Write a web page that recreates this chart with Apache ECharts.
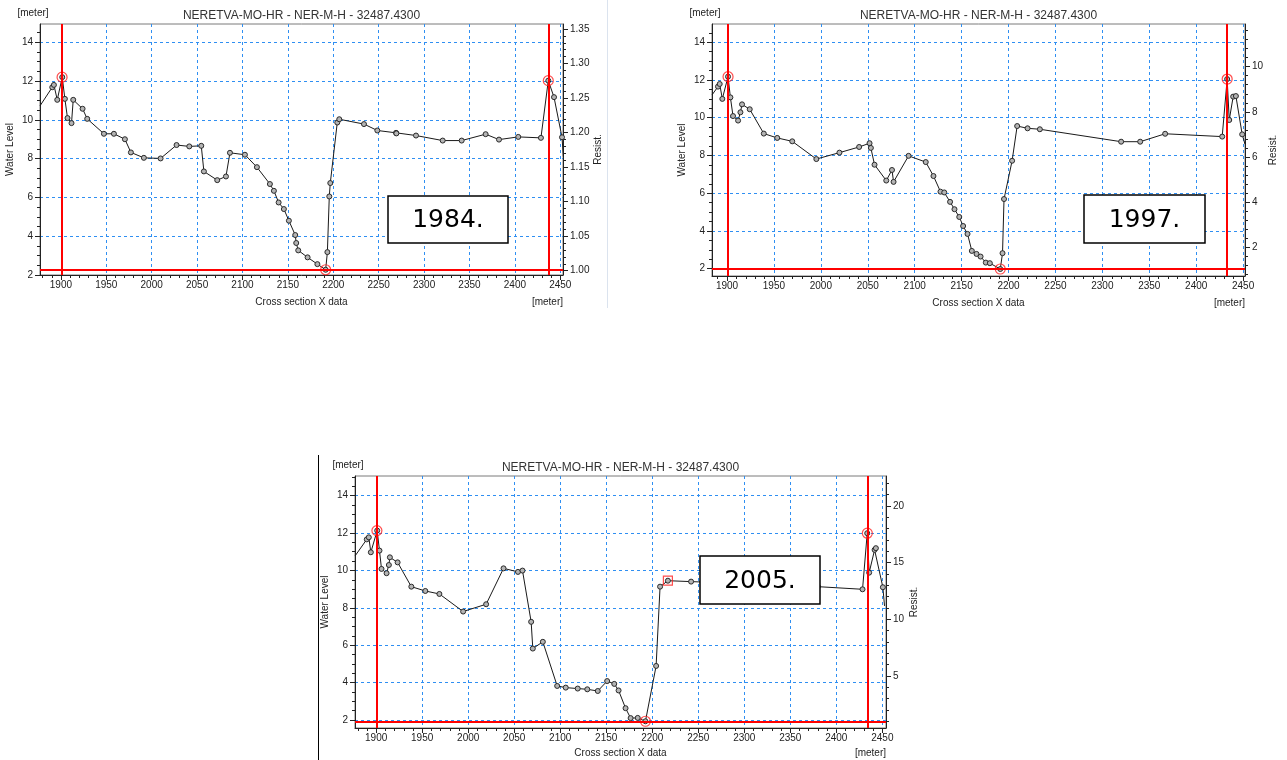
<!DOCTYPE html>
<html><head><meta charset="utf-8">
<script src="https://cdn.jsdelivr.net/npm/echarts@6/dist/echarts.min.js"></script>
<style>html,body{margin:0;padding:0;background:#fff}#c{width:1287px;height:760px}</style>
</head><body><div id="c"></div>
<script>
// ---------- data ----------
const chartTitle = 'NERETVA-MO-HR - NER-M-H - 32487.4300';
const years = ['1984.', '1997.', '2005.'];
const xTickLabels = [1900, 1950, 2000, 2050, 2100, 2150, 2200, 2250, 2300, 2350, 2400, 2450];
const levelTicks = [2, 4, 6, 8, 10, 12, 14];
const resist1984Ticks = [1.00, 1.05, 1.10, 1.15, 1.20, 1.25, 1.30, 1.35];
const resist1997Ticks = [2, 4, 6, 8, 10];
const resist2005Ticks = [5, 10, 15, 20];

const x1984 = [1877, 1890.5, 1892.3, 1896, 1901.5, 1904.4, 1907.3, 1911.7, 1913.6, 1923.9, 1929, 1947.4, 1958.4, 1970.5, 1977.1, 1991.4, 2009.8, 2027.4, 2041.4, 2054.6, 2057.5, 2072.2, 2081.8, 2086.2, 2102.7, 2115.9, 2130.2, 2134.6, 2139.8, 2145.6, 2151.1, 2158.1, 2159.2, 2161.4, 2171.7, 2182.5, 2191.6, 2193.5, 2195.6, 2196.7, 2204.4, 2206.6, 2233.8, 2248.5, 2269.1, 2269.5, 2291.1, 2320.5, 2341.4, 2367.8, 2382.5, 2403.7, 2428.7, 2436.8, 2443.1, 2451.9, 2453.4];
const z1984 = [10.72, 11.68, 11.80, 11.03, 12.2, 11.08, 10.09, 9.83, 11.03, 10.57, 10.05, 9.28, 9.28, 9.0, 8.32, 8.04, 8.01, 8.70, 8.63, 8.66, 7.34, 6.89, 7.08, 8.30, 8.20, 7.56, 6.69, 6.34, 5.74, 5.40, 4.80, 4.06, 3.65, 3.27, 2.91, 2.56, 2.27, 3.18, 6.05, 6.74, 9.86, 10.03, 9.78, 9.45, 9.33, 9.30, 9.19, 8.93, 8.93, 9.26, 8.98, 9.12, 9.07, 12.02, 11.17, 9.1, 8.1];
const peaks1984 = [[1901.3, 12.2], [2436.8, 12.02]];
const low1984 = [2191.6, 2.27];

const x1997 = [1884, 1890.4, 1892.2, 1895, 1901.1, 1903.6, 1906.4, 1911.8, 1914.3, 1916, 1924.2, 1939.2, 1953.5, 1969.5, 1995.2, 2019.8, 2040.8, 2051.9, 2053.3, 2057.2, 2069.7, 2075.8, 2077.5, 2093.5, 2111.8, 2120, 2127.5, 2131.5, 2137.7, 2142.4, 2147.5, 2151.6, 2156.3, 2160.9, 2165.9, 2170.2, 2175.8, 2180.1, 2191.2, 2193.6, 2195.2, 2203.8, 2209.2, 2220.3, 2233.4, 2320, 2340.3, 2366.9, 2427.7, 2433, 2435.2, 2439.4, 2442.3, 2449, 2452];
const z1997 = [11.21, 11.65, 11.79, 11.0, 12.18, 11.08, 10.09, 9.85, 10.29, 10.71, 10.45, 9.16, 8.93, 8.75, 7.81, 8.15, 8.45, 8.65, 8.40, 7.51, 6.67, 7.23, 6.60, 7.98, 7.65, 6.91, 6.08, 6.04, 5.54, 5.15, 4.74, 4.26, 3.84, 2.94, 2.78, 2.64, 2.32, 2.29, 1.98, 2.82, 5.69, 7.72, 9.56, 9.44, 9.39, 8.73, 8.73, 9.15, 9.0, 12.05, 9.88, 11.12, 11.15, 9.12, 8.6];
const peaks1997 = [[1901.1, 12.18], [2433, 12.05]];
const low1997 = [2191.2, 1.98];

const x2005 = [1877, 1889.8, 1892, 1894.2, 1901.1, 1903.6, 1905.8, 1911.3, 1913.8, 1914.9, 1923.3, 1938.2, 1953.4, 1968.7, 1994.5, 2019.5, 2038.4, 2054.1, 2059, 2068.4, 2070.2, 2081.1, 2096.7, 2106, 2119, 2129.4, 2140.8, 2151, 2158.7, 2163.4, 2171, 2176.5, 2184.2, 2192.6, 2204.2, 2208.5, 2217, 2242.2, 2270, 2330, 2380, 2428.5, 2433.6, 2435.7, 2441.6, 2443, 2450.6, 2452.4];
const z2005 = [10.77, 11.66, 11.77, 10.97, 12.13, 11.06, 10.08, 9.85, 10.29, 10.70, 10.43, 9.13, 8.90, 8.74, 7.80, 8.19, 10.11, 9.92, 9.99, 7.25, 5.82, 6.18, 3.82, 3.73, 3.68, 3.64, 3.55, 4.08, 3.93, 3.58, 2.63, 2.10, 2.11, 1.93, 4.89, 9.13, 9.45, 9.40, 9.35, 9.2, 9.13, 8.99, 11.99, 9.88, 11.1, 11.19, 9.1, 8.1];
const peaks2005 = [[1900.8, 12.13], [2433.7, 11.99]];
const low2005 = [2192.6, 1.93];
const selected2005 = [2217, 9.45];

// ---------- layout ----------
const FONT = '"Liberation Sans", Arial, sans-serif';
const panels = [
  {x: x1984, z: z1984, peaks: peaks1984, low: low1984, rTicks: resist1984Ticks, year: years[0], sel: null,
   left: 40, top: 24, width: 523, height: 251, xMin: 1877, xMax: 2453, yMin: 2.0, yMax: 14.94,
   rMin: 0.9938, rMax: 1.3572, rMinor: 0.01, rDec: 2, box: [388, 196, 120, 47], meterTop: [33, 13], waterX: 10, resistX: 598, titleY: 15.5, bottomY: 302},
  {x: x1997, z: z1997, peaks: peaks1997, low: low1997, rTicks: resist1997Ticks, year: years[1], sel: null,
   left: 712, top: 24, width: 533, height: 252, xMin: 1884, xMax: 2452, yMin: 1.61, yMax: 14.97,
   rMin: 0.73, rMax: 11.89, rMinor: 0.4, rDec: 0, box: [1084, 195, 121, 48], meterTop: [705, 13], waterX: 682, resistX: 1273, titleY: 15.5, bottomY: 303},
  {x: x2005, z: z2005, peaks: peaks2005, low: low2005, rTicks: resist2005Ticks, year: years[2], sel: selected2005,
   left: 355, top: 476, width: 531, height: 252, xMin: 1877, xMax: 2454, yMin: 1.57, yMax: 15.05,
   rMin: 0.41, rMax: 22.65, rMinor: 1, rDec: 0, box: [700, 556, 120, 48], meterTop: [348, 465], waterX: 325, resistX: 914, titleY: 467.5, bottomY: 753}
];

function steps(min, max, step) {
  const out = [];
  let v = Math.ceil(min / step - 1e-9) * step;
  for (; v <= max + 1e-9; v += step) out.push(+v.toFixed(4));
  return out;
}

const grids = [], xAxes = [], yAxes = [], series = [], graphics = [];
const axisColor = '#222';
const splitStyle = {show: true, lineStyle: {color: '#2f8ff2', type: [3, 3], width: 1}};

panels.forEach((p, g) => {
  grids.push({left: p.left, top: p.top, width: p.width, height: p.height, show: true,
    borderColor: '#7a7a7a', borderWidth: 1, backgroundColor: '#fff', outerBoundsMode: 'none'});
  // x major
  xAxes.push({gridIndex: g, type: 'value', position: 'bottom', min: p.xMin, max: p.xMax,
    axisLine: {show: true, onZero: false, lineStyle: {color: axisColor}},
    axisTick: {show: true, customValues: xTickLabels, length: 5, lineStyle: {color: axisColor}},
    axisLabel: {customValues: xTickLabels, fontSize: 10, color: axisColor, margin: 5, fontFamily: FONT,
      formatter: v => String(Math.round(v))},
    splitLine: splitStyle});
  // x minor
  xAxes.push({gridIndex: g, type: 'value', position: 'bottom', min: p.xMin, max: p.xMax,
    axisLine: {show: false, onZero: false},
    axisTick: {show: true, customValues: steps(p.xMin, p.xMax, 10), length: 3, lineStyle: {color: axisColor}},
    axisLabel: {show: false}, splitLine: {show: false}});
  // left major
  yAxes.push({gridIndex: g, type: 'value', position: 'left', min: p.yMin, max: p.yMax,
    axisLine: {show: true, onZero: false, lineStyle: {color: axisColor}},
    axisTick: {show: true, customValues: levelTicks, length: 5, lineStyle: {color: axisColor}},
    axisLabel: {customValues: levelTicks, fontSize: 10, color: axisColor, margin: 7, fontFamily: FONT,
      formatter: v => String(Math.round(v))},
    splitLine: splitStyle});
  // left minor
  yAxes.push({gridIndex: g, type: 'value', position: 'left', min: p.yMin, max: p.yMax,
    axisLine: {show: false, onZero: false},
    axisTick: {show: true, customValues: steps(p.yMin, p.yMax, 0.5), length: 3, lineStyle: {color: axisColor}},
    axisLabel: {show: false}, splitLine: {show: false}});
  // right major
  yAxes.push({gridIndex: g, type: 'value', position: 'right', min: p.rMin, max: p.rMax,
    axisLine: {show: true, onZero: false, lineStyle: {color: axisColor}},
    axisTick: {show: true, customValues: p.rTicks, length: 5, lineStyle: {color: axisColor}},
    axisLabel: {customValues: p.rTicks, fontSize: 10, color: axisColor, margin: 7, fontFamily: FONT,
      formatter: v => Number(v).toFixed(p.rDec)},
    splitLine: {show: false}});
  // right minor
  yAxes.push({gridIndex: g, type: 'value', position: 'right', min: p.rMin, max: p.rMax,
    axisLine: {show: false, onZero: false},
    axisTick: {show: true, customValues: steps(p.rMin, p.rMax, p.rMinor), length: 3, lineStyle: {color: axisColor}},
    axisLabel: {show: false}, splitLine: {show: false}});

  const pts = p.x.map((xv, i) => {
    const item = {value: [xv, p.z[i]]};
    if (i === 0 || i === p.x.length - 1) item.symbol = 'none';
    return item;
  });
  series.push({type: 'line', xAxisIndex: 2 * g, yAxisIndex: 4 * g, data: pts,
    symbol: 'circle', symbolSize: 5, showAllSymbol: true, animation: false, z: 3,
    lineStyle: {color: '#1a1a1a', width: 1},
    itemStyle: {color: '#b4b4b4', borderColor: '#2a2a2a', borderWidth: 1}});
  // red markers and lines
  series.push({type: 'scatter', xAxisIndex: 2 * g, yAxisIndex: 4 * g,
    data: [p.peaks[0], p.peaks[1], p.low], symbol: 'circle', symbolSize: 10, animation: false, z: 4,
    itemStyle: {color: 'rgba(0,0,0,0)', borderColor: '#ff2020', borderWidth: 1.2},
    markLine: {silent: true, symbol: ['none', 'none'], animation: false, label: {show: false},
      lineStyle: {color: '#ff0000', width: 2, type: 'solid'},
      data: [{xAxis: p.peaks[0][0]}, {xAxis: p.peaks[1][0]}, {yAxis: p.low[1]}]}});
  if (p.sel) {
    series.push({type: 'scatter', xAxisIndex: 2 * g, yAxisIndex: 4 * g, data: [p.sel],
      symbol: 'rect', symbolSize: 9, animation: false, z: 4,
      itemStyle: {color: 'rgba(0,0,0,0)', borderColor: '#ff2020', borderWidth: 1.2}});
  }

  const cx = p.left + p.width / 2, cy = p.top + p.height / 2;
  const txt = (text, x, y, opts) => Object.assign({type: 'text', x, y, z: 100,
    style: Object.assign({text, fill: '#222', font: '10px ' + FONT, textAlign: 'center', align: 'center',
      textVerticalAlign: 'middle', verticalAlign: 'middle'}, (opts && opts.style) || {})},
    opts && opts.rotation != null ? {rotation: opts.rotation} : {});
  graphics.push(txt(chartTitle, cx, p.titleY, {style: {font: '12px ' + FONT, fill: '#333'}}));
  graphics.push(txt('[meter]', p.meterTop[0], p.meterTop[1]));
  graphics.push(txt('Cross section X data', cx, p.bottomY));
  graphics.push(txt('[meter]', p.left + p.width, p.bottomY, {style: {textAlign: 'right', align: 'right'}}));
  graphics.push(txt('Water Level', p.waterX, cy, {rotation: Math.PI / 2}));
  graphics.push(txt('Resist.', p.resistX, cy, {rotation: Math.PI / 2}));
  graphics.push({type: 'rect', z: 100, shape: {x: p.box[0], y: p.box[1], width: p.box[2], height: p.box[3]},
    style: {fill: '#fff', stroke: '#000', lineWidth: 1.5}});
  graphics.push(txt(p.year, p.box[0] + p.box[2] / 2, p.box[1] + p.box[3] / 2 + 1,
    {style: {font: '25px "DejaVu Sans", Verdana, sans-serif', fill: '#000'}}));
});

graphics.push({type: 'line', z: 100, shape: {x1: 318.5, y1: 455, x2: 318.5, y2: 760}, style: {stroke: '#000', lineWidth: 1}});
graphics.push({type: 'line', z: 100, shape: {x1: 607.5, y1: 0, x2: 607.5, y2: 308}, style: {stroke: '#dbe3ee', lineWidth: 1}});

const chart = echarts.init(document.getElementById('c'), null, {renderer: 'canvas'});
chart.setOption({
  backgroundColor: '#fff',
  animation: false,
  grid: grids,
  xAxis: xAxes,
  yAxis: yAxes,
  series: series,
  graphic: {elements: graphics}
});
</script>
</body></html>
